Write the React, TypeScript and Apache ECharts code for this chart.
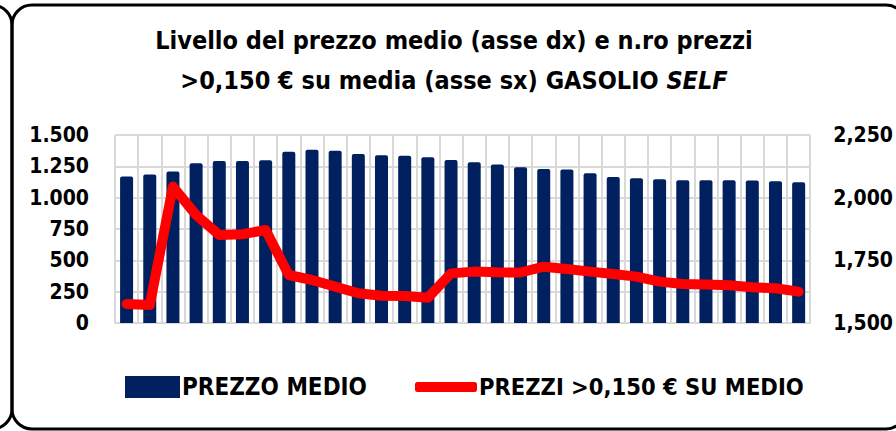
import React, { useEffect, useRef } from "react";
import * as echarts from "echarts";

const categories: string[] = Array.from({ length: 30 }, (_, i) => String(i + 1));

const prezzoMedio: number[] = [
  2.084, 2.092, 2.104, 2.137, 2.146, 2.146, 2.149, 2.183, 2.191, 2.187,
  2.174, 2.169, 2.167, 2.161, 2.150, 2.141, 2.132, 2.121, 2.114, 2.112,
  2.097, 2.082, 2.077, 2.073, 2.069, 2.069, 2.069, 2.068, 2.065, 2.062,
];

const prezziSopraMedia: number[] = [
  152, 144, 1088, 862, 702, 708, 742, 383, 343, 290,
  237, 218, 215, 202, 396, 410, 404, 403, 449, 431,
  410, 391, 370, 330, 311, 308, 301, 285, 277, 250,
];

const titleLine1 = "Livello del prezzo medio (asse dx) e n.ro prezzi";
const titleLine2 = ">0,150 € su media (asse sx) GASOLIO ";
const titleItalic = "SELF";
const seriesBarName = "PREZZO MEDIO";
const seriesLineName = "PREZZI >0,150 € SU MEDIO";

const FONT = "'Liberation Sans Narrow', 'DejaVu Sans Condensed', 'Open Sans', sans-serif";

export default function App() {
  const ref = useRef<HTMLDivElement>(null);
  useEffect(() => {
    if (!ref.current) return;
    const chart = echarts.init(ref.current, undefined, { renderer: "svg" });
    chart.setOption({
      animation: false,
      backgroundColor: "#ffffff",
      textStyle: { fontFamily: FONT },
      graphic: [
        {
          type: "rect",
          shape: { x: -200, y: 5, width: 212, height: 424, r: 20 },
          style: { fill: "none", stroke: "#000", lineWidth: 3 },
          silent: true,
        },
        {
          type: "rect",
          shape: { x: 12, y: 5, width: 894, height: 424, r: 20 },
          style: { fill: "none", stroke: "#000", lineWidth: 3 },
          silent: true,
        },
      ],
      title: {
        text: `{b|${titleLine1}}\n{b|${titleLine2}}{i|${titleItalic}}`,
        left: 454,
        textAlign: "center",
        top: 20,
        padding: 0,
        textStyle: {
          rich: {
            b: { fontFamily: FONT, fontWeight: "bold", fontSize: 25, lineHeight: 40, color: "#000" },
            i: { fontFamily: FONT, fontWeight: "bold", fontStyle: "italic", fontSize: 25, lineHeight: 40, color: "#000" },
          },
        },
      },
      legend: [
        {
          data: [{ name: seriesBarName, icon: "rect" }],
          left: 125,
          top: 375,
          padding: 0,
          itemWidth: 55,
          itemHeight: 22,
          itemGap: 0,
          textStyle: { fontFamily: FONT, fontWeight: "bold", fontSize: 24, color: "#000", padding: [0, 0, 0, -3] },
        },
        {
          data: [{ name: seriesLineName, icon: "roundRect" }],
          left: 415,
          top: 375,
          padding: 0,
          itemWidth: 62,
          itemHeight: 10,
          itemGap: 0,
          textStyle: { fontFamily: FONT, fontWeight: "bold", fontSize: 23.5, color: "#000", padding: [0, 0, 0, -3] },
        },
      ],
      grid: { left: 115, right: 83, top: 135, bottom: 108, containLabel: false },
      xAxis: {
        type: "category",
        data: categories,
        boundaryGap: true,
        axisLine: { show: true, lineStyle: { color: "#D9D9D9", width: 2 } },
        axisTick: { show: false },
        axisLabel: { show: false },
        splitLine: { show: true, lineStyle: { color: "#D9D9D9", width: 2 } },
      },
      yAxis: [
        {
          type: "value",
          min: 0,
          max: 1500,
          interval: 250,
          position: "left",
          axisLine: { show: false },
          axisTick: { show: false },
          splitLine: { show: true, lineStyle: { color: "#D9D9D9", width: 2 } },
          axisLabel: {
            fontFamily: FONT,
            fontWeight: "bold",
            fontSize: 21,
            color: "#000",
            margin: 26,
            formatter: (v: number) => String(v).replace(/\B(?=(\d{3})+(?!\d))/g, "."),
          },
        },
        {
          type: "value",
          min: 1.5,
          max: 2.25,
          interval: 0.25,
          position: "right",
          axisLine: { show: false },
          axisTick: { show: false },
          splitLine: { show: false },
          axisLabel: {
            fontFamily: FONT,
            fontWeight: "bold",
            fontSize: 21,
            color: "#000",
            margin: 23,
            formatter: (v: number) => v.toFixed(3).replace(".", ","),
          },
        },
      ],
      series: [
        {
          name: seriesBarName,
          type: "bar",
          yAxisIndex: 1,
          data: prezzoMedio,
          barWidth: 13,
          itemStyle: { color: "#002060", borderRadius: [2, 2, 0, 0] },
          z: 2,
        },
        {
          name: seriesLineName,
          type: "line",
          yAxisIndex: 0,
          data: prezziSopraMedia,
          showSymbol: false,
          symbol: "none",
          itemStyle: { color: "#FF0000" },
          lineStyle: { color: "#FF0000", width: 10, join: "round", cap: "round" },
          z: 3,
        },
      ],
    });
    return () => chart.dispose();
  }, []);
  return (
    <div
      ref={ref}
      style={{ position: "fixed", left: 0, top: 0, width: 896, height: 431 }}
    />
  );
}
